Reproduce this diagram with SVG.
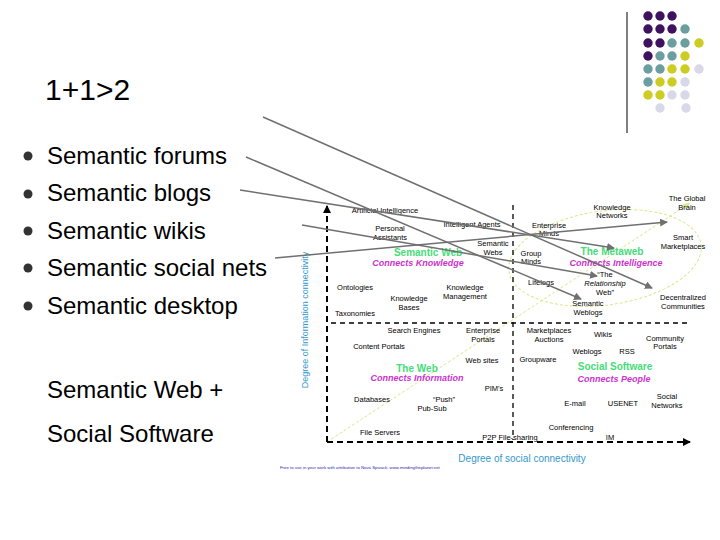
<svg xmlns="http://www.w3.org/2000/svg" width="720" height="540" viewBox="0 0 720 540">
<defs>
<style>
.t{font-family:"Liberation Sans",Arial,sans-serif;font-size:7.5px;fill:#000;text-anchor:middle}
.big{font-family:"Liberation Sans",Arial,sans-serif;font-size:24px;fill:#000}
.g{font-family:"Liberation Sans",Arial,sans-serif;font-size:10px;fill:#44dd77;font-weight:bold;text-anchor:middle}
.m{font-family:"Liberation Sans",Arial,sans-serif;font-size:9px;fill:#cc33cc;font-style:italic;font-weight:bold;text-anchor:middle}
.ax{stroke:#000;stroke-width:2;stroke-dasharray:6,4;fill:none}
.dv{stroke:#000;stroke-width:1.3;stroke-dasharray:5,4;fill:none}
.yl{stroke:#dde68a;stroke-width:1;stroke-dasharray:3,2;fill:none}
.gl{stroke:#707070;stroke-width:1.5;fill:none}
.P{fill:#3f1260}.T{fill:#6b9e9e}.Y{fill:#cccc22}.L{fill:#d8d8e8}
</style>
<marker id="ah" markerWidth="8" markerHeight="8" refX="7" refY="4" orient="auto" markerUnits="userSpaceOnUse"><path d="M0,0L8,4L0,8z" fill="#707070"/></marker>
<marker id="ak" markerWidth="8" markerHeight="8" refX="7" refY="4" orient="auto" markerUnits="userSpaceOnUse"><path d="M0,0L8,4L0,8z" fill="#000"/></marker>
<marker id="ay" markerWidth="8" markerHeight="8" refX="7" refY="4" orient="auto" markerUnits="userSpaceOnUse"><path d="M0,1L8,4L0,7z" fill="#dde68a"/></marker>
</defs>
<rect width="720" height="540" fill="#fff"/>
<g id="dots">
<line x1="627" y1="12" x2="627" y2="133" stroke="#000" stroke-width="1"/>
<circle class="P" cx="648" cy="16" r="4.7"/><circle class="P" cx="660" cy="16" r="4.7"/><circle class="P" cx="672" cy="16" r="4.7"/>
<circle class="P" cx="648" cy="29" r="4.7"/><circle class="P" cx="660" cy="29" r="4.7"/><circle class="P" cx="672" cy="29" r="4.7"/><circle class="T" cx="685" cy="29" r="4.7"/>
<circle class="P" cx="648" cy="43" r="4.7"/><circle class="P" cx="660" cy="43" r="4.7"/><circle class="T" cx="672" cy="43" r="4.7"/><circle class="T" cx="685" cy="43" r="4.7"/><circle class="Y" cx="699" cy="43" r="4.7"/>
<circle class="P" cx="648" cy="56" r="4.7"/><circle class="T" cx="660" cy="56" r="4.7"/><circle class="T" cx="672" cy="56" r="4.7"/><circle class="Y" cx="685" cy="56" r="4.7"/>
<circle class="T" cx="648" cy="69" r="4.7"/><circle class="T" cx="660" cy="69" r="4.7"/><circle class="Y" cx="672" cy="69" r="4.7"/><circle class="Y" cx="685" cy="69" r="4.7"/><circle class="L" cx="699" cy="69" r="4.7"/>
<circle class="T" cx="648" cy="82" r="4.7"/><circle class="Y" cx="660" cy="82" r="4.7"/><circle class="Y" cx="672" cy="82" r="4.7"/><circle class="L" cx="685" cy="82" r="4.7"/>
<circle class="Y" cx="648" cy="95" r="4.7"/><circle class="Y" cx="660" cy="95" r="4.7"/><circle class="L" cx="672" cy="95" r="4.7"/><circle class="L" cx="685" cy="95" r="4.7"/>
<circle class="L" cx="660" cy="108" r="4.7"/><circle class="L" cx="686" cy="108" r="4.7"/>
</g>
<g id="left">
<text x="45" y="100" font-family="Liberation Sans,Arial,sans-serif" font-size="30" fill="#000">1+1&gt;2</text>
<g fill="#333"><circle cx="28" cy="156" r="4.5"/><circle cx="28" cy="194" r="4.5"/><circle cx="28" cy="231" r="4.5"/><circle cx="28" cy="268" r="4.5"/><circle cx="28" cy="306" r="4.5"/></g>
<text class="big" x="47" y="164">Semantic forums</text>
<text class="big" x="47" y="201">Semantic blogs</text>
<text class="big" x="47" y="239">Semantic wikis</text>
<text class="big" x="47" y="276">Semantic social nets</text>
<text class="big" x="47" y="314">Semantic desktop</text>
<text class="big" x="47" y="398">Semantic Web +</text>
<text class="big" x="47" y="442">Social Software</text>
</g>
<g id="chart">
<ellipse class="yl" cx="605" cy="258" rx="97" ry="47" transform="rotate(-8 605 258)"/>
<line class="yl" x1="327" y1="442" x2="690" y2="203" marker-end="url(#ay)"/>
<line class="ax" x1="327" y1="442" x2="327" y2="206" marker-end="url(#ak)"/>
<line class="ax" x1="327" y1="442" x2="690" y2="442" marker-end="url(#ak)"/>
<line class="dv" x1="331" y1="323" x2="690" y2="323"/>
<line class="dv" x1="513" y1="205" x2="513" y2="440"/>
<text transform="translate(308 320) rotate(-90)" font-family="Liberation Sans,Arial,sans-serif" font-size="9" fill="#3399cc" text-anchor="middle">Degree of Information connectivity</text>
<text x="522" y="462" font-family="Liberation Sans,Arial,sans-serif" font-size="10" fill="#3399cc" text-anchor="middle">Degree of social connectivity</text>
<text x="280" y="469" font-family="Liberation Sans,Arial,sans-serif" font-size="4.3" fill="#3322aa">Free to use in your work with attribution to Nova Spivack: www.mindingtheplanet.net</text>
<text class="t" x="385" y="213">Artificial Intelligence</text>
<text class="t" x="390" y="231">Personal</text><text class="t" x="390" y="240">Assistants</text>
<text class="t" x="472" y="227">Intelligent Agents</text>
<text class="t" x="493" y="246">Semantic</text><text class="t" x="493" y="255">Webs</text>
<text class="g" x="428" y="256">Semantic Web</text>
<text class="m" x="418" y="266">Connects Knowledge</text>
<text class="t" x="355" y="290">Ontologies</text>
<text class="t" x="409" y="301">Knowledge</text><text class="t" x="409" y="310">Bases</text>
<text class="t" x="465" y="290">Knowledge</text><text class="t" x="465" y="299">Management</text>
<text class="t" x="355" y="316">Taxonomies</text>
<text class="t" x="687" y="201">The Global</text><text class="t" x="687" y="210">Brain</text>
<text class="t" x="612" y="210">Knowledge</text><text class="t" x="612" y="218">Networks</text>
<text class="t" x="549" y="228">Enterprise</text><text class="t" x="549" y="236">Minds</text>
<text class="t" x="683" y="240">Smart</text><text class="t" x="683" y="249">Marketplaces</text>
<text class="t" x="531" y="256">Group</text><text class="t" x="531" y="264">Minds</text>
<text class="g" x="612" y="255" font-size="11">The Metaweb</text>
<text class="m" x="616" y="266">Connects Intelligence</text>
<text class="t" x="541" y="285">Lifelogs</text>
<text class="t" x="605" y="277">“The</text><text class="t" x="605" y="286" font-style="italic">Relationship</text><text class="t" x="605" y="295">Web”</text>
<text class="t" x="588" y="306">Semantic</text><text class="t" x="588" y="315">Weblogs</text>
<text class="t" x="683" y="300">Decentralized</text><text class="t" x="683" y="309">Communities</text>
<text class="t" x="414" y="333">Search Engines</text>
<text class="t" x="483" y="333">Enterprise</text><text class="t" x="483" y="342">Portals</text>
<text class="t" x="379" y="349">Content Portals</text>
<text class="t" x="482" y="363">Web sites</text>
<text class="g" x="417" y="372">The Web</text>
<text class="m" x="417" y="381">Connects Information</text>
<text class="t" x="494" y="391">PIM's</text>
<text class="t" x="372" y="402">Databases</text>
<text class="t" x="444" y="402">“Push”</text>
<text class="t" x="432" y="411">Pub-Sub</text>
<text class="t" x="380" y="435">File Servers</text>
<text class="t" x="510" y="440">P2P File-sharing</text>
<text class="t" x="549" y="333">Marketplaces</text><text class="t" x="549" y="342">Auctions</text>
<text class="t" x="603" y="337">Wikis</text>
<text class="t" x="665" y="341">Community</text><text class="t" x="665" y="349">Portals</text>
<text class="t" x="587" y="354">Weblogs</text>
<text class="t" x="627" y="354">RSS</text>
<text class="t" x="538" y="362">Groupware</text>
<text class="g" x="615" y="370">Social Software</text>
<text class="m" x="614" y="382">Connects People</text>
<text class="t" x="667" y="399">Social</text><text class="t" x="667" y="408">Networks</text>
<text class="t" x="575" y="406">E-mail</text>
<text class="t" x="623" y="406">USENET</text>
<text class="t" x="571" y="430">Conferencing</text>
<text class="t" x="610" y="440">IM</text>
</g>
<g id="connectors">
<line class="gl" x1="263" y1="117" x2="652" y2="288" marker-end="url(#ah)"/>
<line class="gl" x1="246" y1="157" x2="581" y2="299" marker-end="url(#ah)"/>
<line class="gl" x1="240" y1="190" x2="614" y2="248" marker-end="url(#ah)"/>
<line class="gl" x1="302" y1="225" x2="597" y2="276" marker-end="url(#ah)"/>
<line class="gl" x1="275" y1="258" x2="667" y2="222" marker-end="url(#ah)"/>
</g>
</svg>
